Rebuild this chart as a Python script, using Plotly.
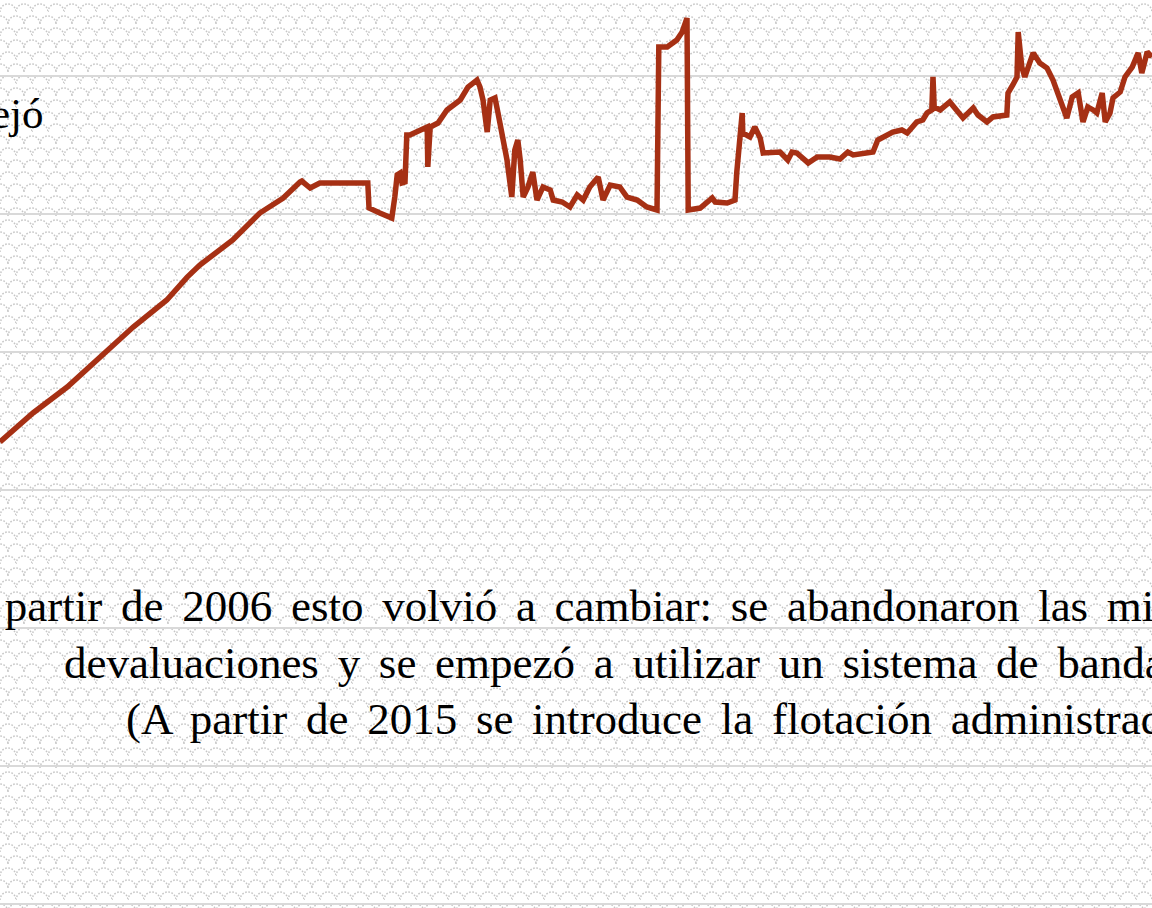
import base64
import plotly.graph_objects as go

# ---- data (decimal year, exchange-rate level) ----
years = [
    2001.80, 2002.35, 2002.92, 2003.47, 2004.02, 2004.58, 2004.92, 2005.13, 2005.68, 2006.13,
    2006.52, 2006.80, 2006.83, 2006.97, 2007.13, 2007.93, 2007.95, 2008.13, 2008.33, 2008.38,
    2008.42, 2008.47, 2008.50, 2008.55, 2008.58, 2008.63, 2008.92, 2008.93, 2008.97, 2009.10,
    2009.25, 2009.47, 2009.60, 2009.75, 2009.80, 2009.85, 2009.92, 2009.97, 2010.05, 2010.10,
    2010.18, 2010.25, 2010.33, 2010.38, 2010.43, 2010.47, 2010.52, 2010.60, 2010.68, 2010.75,
    2010.85, 2010.97, 2011.02, 2011.17, 2011.30, 2011.42, 2011.52, 2011.63, 2011.77, 2011.85,
    2011.97, 2012.13, 2012.25, 2012.42, 2012.58, 2012.75, 2012.78, 2012.92, 2013.08, 2013.17,
    2013.25, 2013.27, 2013.47, 2013.67, 2013.72, 2013.92, 2014.05, 2014.08, 2014.17, 2014.18,
    2014.30, 2014.38, 2014.47, 2014.52, 2014.80, 2014.93, 2015.00, 2015.08, 2015.27, 2015.42,
    2015.63, 2015.80, 2015.93, 2016.02, 2016.35, 2016.43, 2016.68, 2016.83, 2016.92, 2017.08,
    2017.18, 2017.25, 2017.33, 2017.35, 2017.37, 2017.47, 2017.63, 2017.75, 2017.85, 2018.02,
    2018.10, 2018.25, 2018.35, 2018.58, 2018.60, 2018.68, 2018.75, 2018.77, 2018.83, 2018.88,
    2019.02, 2019.13, 2019.25, 2019.35, 2019.43, 2019.52, 2019.58, 2019.67, 2019.77, 2019.85,
    2019.93, 2020.02, 2020.08, 2020.17, 2020.22, 2020.30, 2020.35, 2020.47, 2020.55, 2020.67,
    2020.77, 2020.83, 2020.92, 2021.00,
]
rate = [
    334.8, 355.8, 374.6, 395.7, 418.1, 437.7, 454.3, 463.0, 481.2, 500.7,
    511.6, 523.2, 523.9, 518.8, 522.5, 522.5, 504.3, 500.7, 497.1, 512.3,
    528.3, 529.7, 522.5, 523.2, 557.2, 557.2, 563.0, 534.1, 563.0, 565.9,
    575.4, 582.6, 592.0, 597.1, 592.0, 582.6, 559.4, 582.6, 584.1, 573.2,
    555.8, 539.1, 512.3, 546.4, 553.6, 539.1, 512.3, 519.6, 530.4, 510.1,
    519.6, 517.4, 510.1, 508.7, 505.1, 513.8, 510.1, 519.6, 526.8, 510.1,
    521.0, 519.6, 512.3, 510.1, 505.1, 502.9, 621.0, 621.0, 626.1, 631.9,
    642.0, 502.9, 504.3, 511.6, 508.7, 508.0, 510.1, 530.4, 573.2, 558.7,
    555.8, 563.0, 555.0, 544.2, 544.9, 539.1, 544.9, 544.2, 537.0, 541.3,
    541.3, 539.9, 544.9, 542.8, 544.9, 553.6, 559.4, 560.9, 558.7, 566.7,
    568.1, 573.2, 575.4, 599.3, 577.5, 575.4, 581.2, 575.4, 569.6, 576.8,
    571.7, 566.7, 570.3, 571.7, 587.7, 593.5, 599.3, 631.9, 606.5, 599.3,
    616.7, 609.4, 605.8, 597.1, 587.7, 577.5, 569.6, 584.8, 587.7, 566.7,
    577.5, 575.4, 573.2, 587.7, 566.7, 573.2, 584.1, 588.4, 599.3, 606.5,
    616.7, 602.2, 617.4, 613.8,
]

text_top = "ejó"
text_lines = [
    "A partir de 2006 esto volvió a cambiar: se abandonaron las mini-",
    "devaluaciones y se empezó a utilizar un sistema de bandas",
    "(A partir de 2015 se introduce la flotación administrada)",
]

W, H = 1152, 908
LINE_COLOR = "#A63014"
FONT = "Liberation Serif, Times New Roman, serif"
GAP = " \u2006"  # slightly widened word gap as in the slide text

# ---- textured background (scalloped pattern) ----
svg = (
    "<svg xmlns='http://www.w3.org/2000/svg' width='1152' height='908'>"
    "<defs><pattern id='p' width='16' height='24' patternUnits='userSpaceOnUse'>"
    "<path d='M0,12 A8,8 0 0 1 16,12 M-8,24 A8,8 0 0 1 8,24 M8,24 A8,8 0 0 1 24,24' "
    "fill='none' stroke='#c6c6c6' stroke-width='1.5' stroke-dasharray='1.6 1.6'/>"
    "</pattern></defs>"
    "<rect width='100%' height='100%' fill='white'/>"
    "<rect width='100%' height='100%' fill='url(#p)'/></svg>"
)
bg_src = "data:image/svg+xml;base64," + base64.b64encode(svg.encode()).decode()

fig = go.Figure()
fig.add_trace(go.Scatter(
    x=years, y=rate, mode="lines",
    line=dict(color=LINE_COLOR, width=5.5),
    showlegend=False, hoverinfo="skip",
))

fig.add_layout_image(dict(
    source=bg_src, xref="paper", yref="paper", x=0, y=1,
    sizex=1, sizey=1, xanchor="left", yanchor="top",
    sizing="stretch", layer="below",
))

fig.add_annotation(
    text=text_top, xref="paper", yref="paper",
    x=46 / W, y=1 - 113 / H, xanchor="right", yanchor="middle",
    showarrow=False, font=dict(family=FONT, size=43, color="black"),
)
fs = 45
line_x = [-46, 62, 124]
line_y = [606, 663, 719]
for t, lx, ly in zip(text_lines, line_x, line_y):
    fig.add_annotation(
        text=t.replace(" ", GAP), xref="paper", yref="paper",
        x=lx / W, y=1 - ly / H, xanchor="left", yanchor="middle",
        showarrow=False, font=dict(family=FONT, size=fs, color="black"),
    )

fig.update_layout(
    width=W, height=H, autosize=False,
    margin=dict(l=0, r=0, t=0, b=0),
    paper_bgcolor="white", plot_bgcolor="rgba(0,0,0,0)",
    xaxis=dict(range=[2001.80, 2021.00], showgrid=False, zeroline=False,
               showticklabels=False, ticks="", showline=False),
    yaxis=dict(range=[-2.899, 655.07], tick0=0, dtick=100, showgrid=True,
               gridcolor="#d9d9d9", gridwidth=2, zeroline=False,
               showticklabels=False, ticks="", showline=False),
)

fig.write_html(
    "out.html",
    config={"displayModeBar": False},
    post_script="document.body.style.margin='0';document.body.style.overflow='hidden';",
)
